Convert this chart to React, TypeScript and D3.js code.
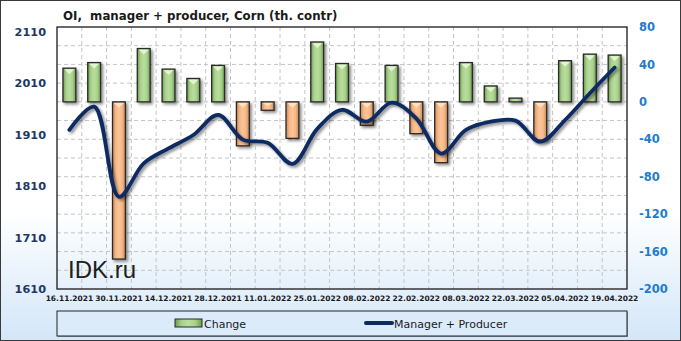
import React from "react";
import * as d3 from "d3";

const dates = ["16.11.2021","23.11.2021","30.11.2021","07.12.2021","14.12.2021","21.12.2021","28.12.2021","04.01.2022","11.01.2022","18.01.2022","25.01.2022","01.02.2022","08.02.2022","15.02.2022","22.02.2022","01.03.2022","08.03.2022","15.03.2022","22.03.2022","29.03.2022","05.04.2022","12.04.2022","19.04.2022"];
const change = [36, 42, -168, 57, 35, 25, 39, -47, -9, -39, 64, 41, -25, 39, -34, -65, 42, 17, 4, -41, 44, 51, 50];
const managerProducer = [1919, 1964, 1789, 1854, 1883, 1909, 1948, 1900, 1894, 1853, 1921, 1958, 1935, 1972, 1941, 1873, 1919, 1935, 1937, 1896, 1938, 1990, 2040];
const leftTicks = [1610, 1710, 1810, 1910, 2010, 2110];
const rightTicks = [-200, -160, -120, -80, -40, 0, 40, 80];
const title = "OI,  manager + producer, Corn (th. contr)";

const W = 681, H = 341;
const PL = 57, PR = 627, PT = 27, PB = 289;

export default function App() {
  const x = d3.scaleBand<string>().domain(dates).range([PL, PR]).paddingInner(0).paddingOuter(0);
  const yL = d3.scaleLinear().domain([1610, 2110]).range([PB, 31.5]);
  const yR = d3.scaleLinear().domain([-200, 80]).range([PB, PT]);
  const bw = x.bandwidth() * 0.52;
  const line = d3.line<number>()
    .x((_, i) => (x(dates[i]) as number) + x.bandwidth() / 2)
    .y((d) => yL(d))
    .curve(d3.curveCatmullRom.alpha(0.5));
  const hGrid = d3.range(-180, 80, 20);
  const vGrid = dates.slice(1).map((d) => x(d) as number);
  const font = "'DejaVu Sans', Verdana, sans-serif";

  return (
    <div style={{ position: "absolute", left: 0, top: 0 }}>
      <svg width={W} height={H} style={{ display: "block" }}>
        <defs>
          <linearGradient id="bg" x1="0" y1="0" x2="0" y2="1">
            <stop offset="0.62" stopColor="#ffffff" />
            <stop offset="1" stopColor="#d3e6f8" />
          </linearGradient>
          <linearGradient id="gG" x1="0" y1="0" x2="1" y2="0">
            <stop offset="0" stopColor="#6f9a52" />
            <stop offset="0.25" stopColor="#a9d18c" />
            <stop offset="0.5" stopColor="#b9dd9e" />
            <stop offset="0.75" stopColor="#a9d18c" />
            <stop offset="1" stopColor="#6f9a52" />
          </linearGradient>
          <linearGradient id="gO" x1="0" y1="0" x2="1" y2="0">
            <stop offset="0" stopColor="#c98656" />
            <stop offset="0.25" stopColor="#f5b786" />
            <stop offset="0.5" stopColor="#fcc598" />
            <stop offset="0.75" stopColor="#f5b786" />
            <stop offset="1" stopColor="#c98656" />
          </linearGradient>
          <filter id="sh" x="-50%" y="-50%" width="200%" height="200%">
            <feGaussianBlur in="SourceAlpha" stdDeviation="1.6" />
            <feOffset dx="1.5" dy="2" result="b" />
            <feComponentTransfer><feFuncA type="linear" slope="0.45" /></feComponentTransfer>
            <feMerge><feMergeNode /><feMergeNode in="SourceGraphic" /></feMerge>
          </filter>
        </defs>
        <rect x={0.5} y={0.5} width={W - 1} height={H - 1} fill="url(#bg)" stroke="#3a3a3a" />
        <text x={63} y={19.5} fontFamily={font} fontWeight="bold" fontSize={11.8} fill="#1a1a1a" style={{ whiteSpace: "pre" }}>{title}</text>
        {/* grid */}
        {hGrid.map((v) => (
          <line key={"h" + v} x1={PL} x2={PR} y1={yR(v)} y2={yR(v)} stroke="#c4c4c4" strokeDasharray="4,3" />
        ))}
        {vGrid.map((vx, i) => (
          <line key={"v" + i} x1={vx} x2={vx} y1={PT} y2={PB} stroke="#c4c4c4" strokeDasharray="4,3" />
        ))}
        <text x={68} y={278} fontFamily="'Liberation Sans', Arial, sans-serif" fontSize={24} fill="#202020">IDK.ru</text>
        {/* bars */}
        <g filter="url(#sh)">
          {change.map((v, i) => {
            const bx = (x(dates[i]) as number) + (x.bandwidth() - bw) / 2;
            const y0 = yR(0), y1 = yR(v);
            const top = Math.min(y0, y1), h = Math.abs(y1 - y0);
            const pos = v >= 0;
            const tri = Math.min(6, h / 2);
            return (
              <g key={i}>
                <rect x={bx} y={top} width={bw} height={h} fill={pos ? "url(#gG)" : "url(#gO)"} stroke="#2a2a2a" strokeWidth={1.3} />
                {h > 4 && (
                  <polygon
                    points={`${bx + 1.5},${top + 1.2} ${bx + bw - 1.5},${top + 1.2} ${bx + bw / 2},${top + tri}`}
                    fill={pos ? "#e2f4d2" : "#fde2c8"}
                  />
                )}
              </g>
            );
          })}
        </g>
        {/* line */}
        <path d={line(managerProducer) || ""} fill="none" stroke="#0b2a63" strokeWidth={3.8} strokeLinecap="round" filter="url(#sh)" />
        {/* plot border */}
        <rect x={PL} y={PT} width={PR - PL} height={PB - PT} fill="none" stroke="#1a1a1a" strokeWidth={1.3} />
        {/* left axis */}
        {leftTicks.map((v) => (
          <text key={"l" + v} x={46} y={yL(v)} dy="0.36em" textAnchor="end" fontFamily={font} fontWeight="bold" fontSize={11.3} fill="#1f3864">{v}</text>
        ))}
        {/* right axis */}
        {rightTicks.map((v) => (
          <text key={"r" + v} x={639} y={yR(v)} dy="0.36em" textAnchor="start" fontFamily={font} fontWeight="bold" fontSize={11.5} fill="#1e7bd0">{v}</text>
        ))}
        {/* x labels */}
        {dates.map((d, i) => i % 2 === 0 ? (
          <text key={"x" + i} x={(x(d) as number) + x.bandwidth() / 2} y={301} textAnchor="middle" fontFamily={font} fontWeight="bold" fontSize={7.5} fill="#1a1a1a">{d}</text>
        ) : null)}
        {/* legend */}
        <rect x={58} y={312} width={570} height={25} fill="#555" opacity={0.5} />
        <rect x={57} y={311} width={570} height={25} fill="#dcebfa" stroke="#222" />
        <rect x={175} y={319} width={27} height={8} fill="url(#gG)" stroke="#2a2a2a" />
        <text x={204} y={327.5} fontFamily={font} fontSize={11} fill="#1a1a1a">Change</text>
        <line x1={366} x2={392} y1={323} y2={323} stroke="#0b2a63" strokeWidth={4} strokeLinecap="round" />
        <text x={394} y={327.5} fontFamily={font} fontSize={11} fill="#1a1a1a">Manager + Producer</text>
      </svg>
    </div>
  );
}
